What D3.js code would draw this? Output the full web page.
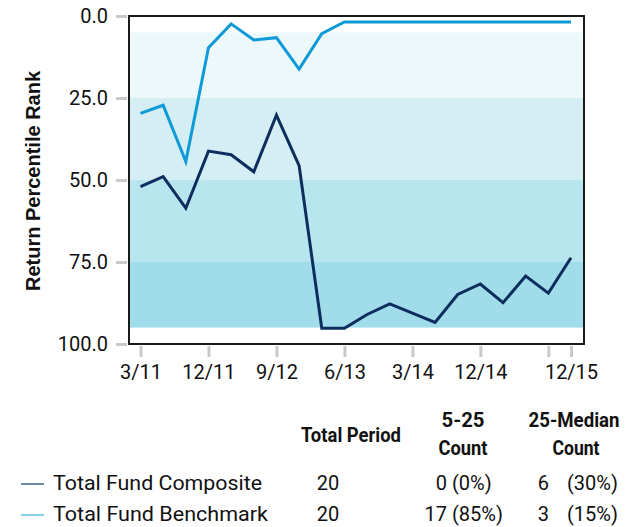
<!DOCTYPE html>
<html>
<head>
<meta charset="utf-8">
<script src="https://cdn.jsdelivr.net/npm/d3@7"></script>
<style>
  body { margin: 0; background: #fff; }
  svg { display: block; font-family: Roboto, sans-serif; }
</style>
</head>
<body>
<div id="chart"></div>
<script>
// Quarters, 3/11 .. 12/15
const quarters = ['3/11','6/11','9/11','12/11','3/12','6/12','9/12','12/12','3/13','6/13',
  '9/13','12/13','3/14','6/14','9/14','12/14','3/15','6/15','9/15','12/15'];
const tickIdx = [0, 3, 6, 9, 12, 15, 18, 19];
const labelIdx = [0, 3, 6, 9, 12, 15, 19];
const yTicks = [0, 25, 50, 75, 100];

const composite = [52.0, 49.0, 58.6, 41.2, 42.3, 47.5, 30.2, 45.6, 95.2, 95.2,
  91.0, 87.8, 90.6, 93.4, 84.9, 81.7, 87.4, 79.3, 84.5, 73.7];
const benchmark = [29.7, 27.2, 44.4, 9.7, 2.4, 7.3, 6.6, 16.2, 5.4, 1.8,
  1.8, 1.8, 1.8, 1.8, 1.8, 1.8, 1.8, 1.8, 1.8, 1.8];

// percentile bands [from, to]
const bandRanges = [[5, 25], [25, 50], [50, 75], [75, 95]];
const bandColors = ['#edf8fb', '#d4eef4', '#b8e6ee', '#a1dcea'];

const seriesNames = ['Total Fund Composite', 'Total Fund Benchmark'];
const seriesColors = ['#0c2d5e', '#0e9ad6'];
const legendColors = ['#3e5f8f', '#5cbfe8'];
const totalPeriod = [20, 20];
const count525 = [0, 17];
const pct525 = ['(0%)', '(85%)'];
const countMed = [6, 3];
const pctMed = ['(30%)', '(15%)'];

const W = 637, H = 527;
const plot = { left: 129, right: 584, top: 16, bottom: 344 };

const svg = d3.select('#chart').append('svg')
  .attr('width', W)
  .attr('height', H);

const x = d3.scaleLinear().domain([0, 19]).range([140.5, 571]);
const y = d3.scaleLinear().domain([0, 100]).range([plot.top, plot.bottom]);

// Bands
svg.selectAll('rect.band')
  .data(bandRanges)
  .enter()
  .append('rect')
  .attr('class', 'band')
  .attr('x', plot.left)
  .attr('width', plot.right - plot.left)
  .attr('y', (d) => y(d[0]))
  .attr('height', (d) => y(d[1]) - y(d[0]))
  .attr('fill', (d, i) => bandColors[i]);

// Y axis
const yAxis = svg.append('g')
  .attr('transform', `translate(${plot.left - 2},0)`)
  .call(d3.axisLeft(y).tickValues(yTicks).tickSize(11).tickPadding(8).tickFormat(d3.format('.1f')));
yAxis.select('.domain').remove();
yAxis.selectAll('line').attr('stroke', '#c6cacd').attr('stroke-width', 3);
yAxis.selectAll('text').attr('fill', '#111').style('font-size', '20px').attr('font-family', 'Roboto');

// X axis
const xAxis = svg.append('g')
  .attr('transform', `translate(0,${plot.bottom + 2})`)
  .call(d3.axisBottom(x).tickValues(tickIdx).tickSize(11).tickPadding(8)
    .tickFormat((d) => (labelIdx.includes(d) ? quarters[d] : '')));
xAxis.select('.domain').remove();
xAxis.selectAll('line').attr('stroke', '#c6cacd').attr('stroke-width', 3);
xAxis.selectAll('text').attr('fill', '#111').style('font-size', '20px').attr('font-family', 'Roboto');

// Y title
svg.append('text')
  .attr('transform', `translate(40,${(plot.top + plot.bottom) / 2 + 1}) rotate(-90)`)
  .attr('text-anchor', 'middle')
  .attr('font-family', 'Liberation Sans, Arial, sans-serif')
  .attr('font-weight', 'bold')
  .style('font-size', '20px')
  .attr('fill', '#111')
  .text('Return Percentile Rank');

// Lines
const line = d3.line()
  .x((d, i) => x(i))
  .y((d) => y(d));

[composite, benchmark].forEach((data, i) => {
  svg.append('path')
    .datum(data)
    .attr('fill', 'none')
    .attr('stroke', seriesColors[i])
    .attr('stroke-width', 3)
    .attr('stroke-linejoin', 'miter')
    .attr('d', line);
});

// Plot frame
svg.append('rect')
  .attr('x', plot.left)
  .attr('y', plot.top)
  .attr('width', plot.right - plot.left)
  .attr('height', plot.bottom - plot.top)
  .attr('fill', 'none')
  .attr('stroke', '#1a1a1a')
  .attr('stroke-width', 2);

// Table headers
const header = (txt, cx, by, len) => {
  svg.append('text')
    .attr('x', cx)
    .attr('y', by)
    .attr('text-anchor', 'middle')
    .attr('font-weight', 'bold')
    .attr('textLength', len)
    .attr('lengthAdjust', 'spacingAndGlyphs')
    .style('font-size', '20px')
    .attr('fill', '#111')
    .text(txt);
};
header('Total Period', 351, 442, 100);
header('5-25', 463, 427, 43);
header('Count', 463, 455, 49);
header('25-Median', 574, 427, 91);
header('Count', 576, 455, 47);

// Table rows
const rowY = [490, 521];
const nameLen = [209, 215];
seriesNames.forEach((name, i) => {
  const g = svg.append('g').style('font-size', '20px').attr('fill', '#111');
  g.append('line')
    .attr('x1', 21).attr('x2', 44)
    .attr('y1', rowY[i] - 6).attr('y2', rowY[i] - 6)
    .attr('stroke', legendColors[i])
    .attr('stroke-width', 1.5);
  g.append('text').attr('x', 53).attr('y', rowY[i])
    .attr('textLength', nameLen[i]).attr('lengthAdjust', 'spacingAndGlyphs').text(name);
  g.append('text').attr('x', 328).attr('y', rowY[i]).attr('text-anchor', 'middle').text(totalPeriod[i]);
  g.append('text').attr('x', 447).attr('y', rowY[i]).attr('text-anchor', 'end').text(count525[i]);
  g.append('text').attr('x', 452).attr('y', rowY[i]).text(pct525[i]);
  g.append('text').attr('x', 549).attr('y', rowY[i]).attr('text-anchor', 'end').text(countMed[i]);
  g.append('text').attr('x', 567).attr('y', rowY[i]).text(pctMed[i]);
});
</script>
</body>
</html>
